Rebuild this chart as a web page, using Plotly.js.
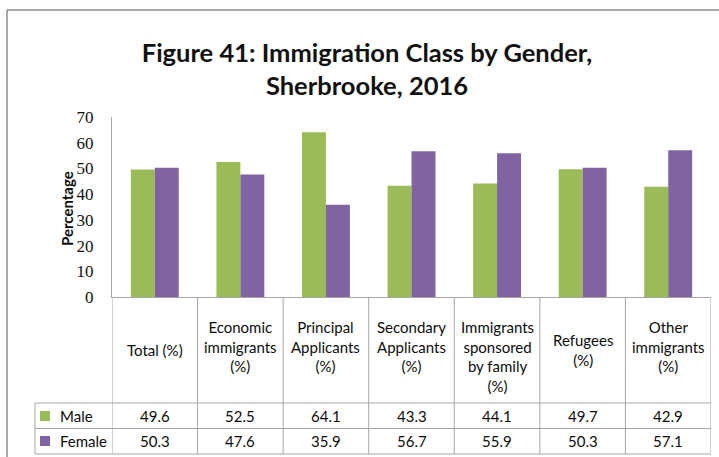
<!DOCTYPE html>
<html>
<head>
<meta charset="utf-8">
<script src="https://cdn.plot.ly/plotly-3.0.1.min.js"></script>
<style>
html,body{margin:0;padding:0;background:#fff;}
#chart{width:719px;height:457px;}
</style>
</head>
<body>
<div id="chart"></div>
<script>
// ---- data ----
var categories = ["Total (%)", "Economic immigrants (%)", "Principal Applicants (%)", "Secondary Applicants (%)", "Immigrants sponsored by family (%)", "Refugees (%)", "Other immigrants (%)"];
var headerLabels = ["Total (%)", "Economic<br>immigrants<br>(%)", "Principal<br>Applicants<br>(%)", "Secondary<br>Applicants<br>(%)", "Immigrants<br>sponsored<br>by family<br>(%)", "Refugees<br>(%)", "Other<br>immigrants<br>(%)"];
var seriesNames = ["Male", "Female"];
var male = [49.6, 52.5, 64.1, 43.3, 44.1, 49.7, 42.9];
var female = [50.3, 47.6, 35.9, 56.7, 55.9, 50.3, 57.1];
var yTicks = [0, 10, 20, 30, 40, 50, 60, 70];

// ---- layout helpers (pixel -> paper) ----
var W = 719, H = 457;
var L = 112, R = 8, T = 117, B = 160;
var PW = W - L - R, PH = H - T - B;
function px(x){ return (x - L) / PW; }
function py(y){ return (T + PH - y) / PH; }

var colors = ["#9BBB59", "#8064A2"];
var gridColor = "#A6A6A6";
var textFont = "Lato, 'Open Sans', sans-serif";
var textColor = "#0d0d0d";

var traces = [
  {type:"bar", name:seriesNames[0], x:categories, y:male, marker:{color:colors[0]}, hoverinfo:"y"},
  {type:"bar", name:seriesNames[1], x:categories, y:female, marker:{color:colors[1]}, hoverinfo:"y"}
];

var shapes = [];
var annotations = [];

// outer chart border (left + top)
shapes.push({type:"line", xref:"paper", yref:"paper", x0:px(7), x1:px(7), y0:py(10), y1:py(460), line:{color:"#8C8C8C", width:1.5}});
shapes.push({type:"line", xref:"paper", yref:"paper", x0:px(7), x1:px(722), y0:py(10), y1:py(10), line:{color:"#8C8C8C", width:1.5}});

// table vertical lines at category boundaries
for (var i = 0; i <= categories.length; i++) {
  shapes.push({type:"line", xref:"x", yref:"paper", x0:i-0.5, x1:i-0.5, y0:0, y1:py(454), line:{color:gridColor, width:1}});
}
// table horizontal lines (rows)
[403, 428.5, 454].forEach(function(yy){
  shapes.push({type:"line", xref:"paper", yref:"paper", x0:px(35), x1:1, y0:py(yy), y1:py(yy), line:{color:gridColor, width:1}});
});
// legend column left edge
shapes.push({type:"line", xref:"paper", yref:"paper", x0:px(35), x1:px(35), y0:py(403), y1:py(454), line:{color:gridColor, width:1}});

// category headers
headerLabels.forEach(function(lbl, i){
  var n = lbl.split("<br>").length;
  var a = {x:categories[i], xref:"x", yref:"paper", text:lbl, showarrow:false, borderpad:0,
           font:{family:textFont, size:15, color:textColor}, align:"center"};
  if (n <= 2) { a.y = py(350); a.yanchor = "middle"; }
  else { a.y = py(317); a.yanchor = "top"; }
  annotations.push(a);
});

// row values + legend keys
var rows = [male, female];
var rowY = [416, 441];
rows.forEach(function(vals, r){
  vals.forEach(function(v, i){
    annotations.push({x:categories[i], xref:"x", yref:"paper", y:py(rowY[r]), yanchor:"middle",
      text:v.toFixed(1), showarrow:false, font:{family:textFont, size:15, color:textColor}});
  });
  shapes.push({type:"rect", xref:"paper", yref:"paper", x0:px(40), x1:px(50), y0:py(rowY[r]-5), y1:py(rowY[r]+5),
    fillcolor:colors[r], line:{width:0}});
  annotations.push({xref:"paper", yref:"paper", x:px(58), y:py(rowY[r]), xanchor:"left", yanchor:"middle",
    text:seriesNames[r], showarrow:false, font:{family:textFont, size:15, color:textColor}});
});

// y axis title
annotations.push({xref:"paper", yref:"paper", x:px(67), y:py(209), xanchor:"center", yanchor:"middle",
  text:"Percentage", textangle:-90, showarrow:false, borderpad:0,
  font:{family:textFont, size:15, color:textColor, weight:"bold"}});

var layout = {
  width:W, height:H,
  margin:{l:L, r:R, t:T, b:B, pad:0},
  paper_bgcolor:"#fff", plot_bgcolor:"#fff",
  showlegend:false,
  bargap:0.44, bargroupgap:0, barmode:"group",
  title:{text:"Figure 41: Immigration Class by Gender,<br>Sherbrooke, 2016",
    font:{family:textFont, size:25.5, color:"#111", weight:"bold"},
    x:367/W, xanchor:"center", xref:"container", yref:"container",
    y:1 - 62/H, yanchor:"middle"},
  xaxis:{type:"category", range:[-0.5, categories.length-0.5], showticklabels:false, ticks:"",
    showline:true, linecolor:gridColor, linewidth:1, showgrid:false, zeroline:false, fixedrange:true},
  yaxis:{range:[0,70], tickvals:yTicks, ticktext:yTicks.map(String), showgrid:false, zeroline:false,
    showline:true, linecolor:gridColor, linewidth:1, ticks:"", ticklabelstandoff:14,
    tickfont:{family:"'Liberation Serif', 'DejaVu Serif', serif", size:17, color:"#111"}},
  shapes:shapes,
  annotations:annotations
};

Plotly.newPlot("chart", traces, layout, {displayModeBar:false, staticPlot:true});
</script>
</body>
</html>
